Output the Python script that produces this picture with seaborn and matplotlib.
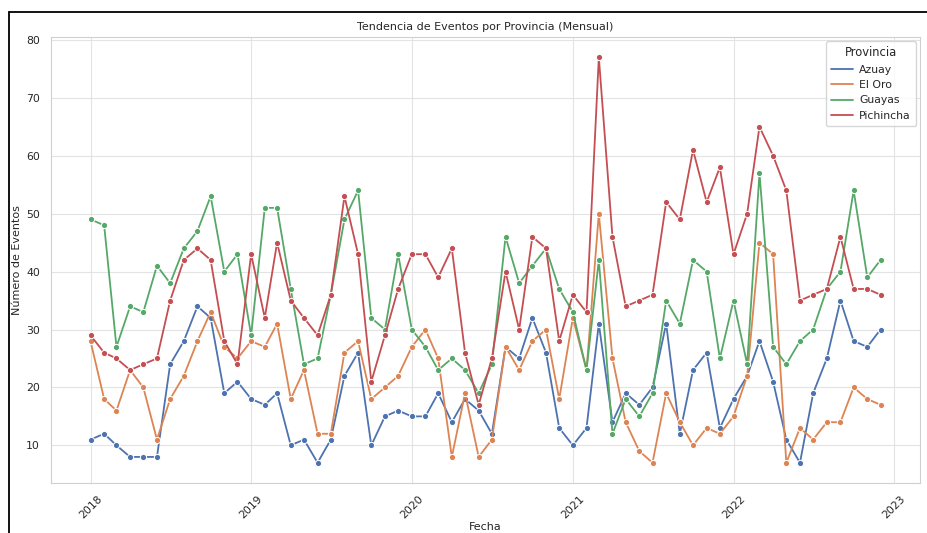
import numpy as np
import pandas as pd
import matplotlib
matplotlib.use("Agg")
import matplotlib.pyplot as plt
import seaborn as sns
from matplotlib.lines import Line2D

# ---- data ----
provincias = ["Azuay", "El Oro", "Guayas", "Pichincha"]
fechas = pd.date_range("2018-01-01", periods=60, freq="MS")

azuay = [11, 12, 10, 8, 8, 8, 24, 28, 34, 32, 19, 21,
         18, 17, 19, 10, 11, 7, 11, 22, 26, 10, 15, 16,
         15, 15, 19, 14, 18, 16, 12, 27, 25, 32, 26, 13,
         10, 13, 31, 14, 19, 17, 20, 31, 12, 23, 26, 13,
         18, 22, 28, 21, 11, 7, 19, 25, 35, 28, 27, 30]
el_oro = [28, 18, 16, 23, 20, 11, 18, 22, 28, 33, 27, 25,
          28, 27, 31, 18, 23, 12, 12, 26, 28, 18, 20, 22,
          27, 30, 25, 8, 19, 8, 11, 27, 23, 28, 30, 18,
          32, 23, 50, 25, 14, 9, 7, 19, 14, 10, 13, 12,
          15, 22, 45, 43, 7, 13, 11, 14, 14, 20, 18, 17]
guayas = [49, 48, 27, 34, 33, 41, 38, 44, 47, 53, 40, 43,
          29, 51, 51, 37, 24, 25, 36, 49, 54, 32, 30, 43,
          30, 27, 23, 25, 23, 19, 24, 46, 38, 41, 44, 37,
          33, 23, 42, 12, 18, 15, 19, 35, 31, 42, 40, 25,
          35, 24, 57, 27, 24, 28, 30, 37, 40, 54, 39, 42]
pichincha = [29, 26, 25, 23, 24, 25, 35, 42, 44, 42, 28, 24,
             43, 32, 45, 35, 32, 29, 36, 53, 43, 21, 29, 37,
             43, 43, 39, 44, 26, 17, 25, 40, 30, 46, 44, 28,
             36, 33, 77, 46, 34, 35, 36, 52, 49, 61, 52, 58,
             43, 50, 65, 60, 54, 35, 36, 37, 46, 37, 37, 36]

series = {"Azuay": azuay, "El Oro": el_oro, "Guayas": guayas, "Pichincha": pichincha}
df = pd.concat(
    [pd.DataFrame({"Fecha": fechas, "Eventos": vals, "Provincia": p}) for p, vals in series.items()],
    ignore_index=True,
)

# ---- plot ----
sns.set_theme(style="whitegrid")
plt.rcParams["font.family"] = ["DejaVu Sans"]

fig = plt.figure(figsize=(9.27, 5.33), dpi=100)
ax = fig.add_axes([51 / 927, 1 - 483 / 533, (920 - 51) / 927, (483 - 37) / 533])

palette = sns.color_palette("deep", 4)
sns.lineplot(data=df, x="Fecha", y="Eventos", hue="Provincia", hue_order=provincias,
             palette=palette, marker="o", markersize=4.5, linewidth=1.3, ax=ax)

ax.set_title("Tendencia de Eventos por Provincia (Mensual)", fontsize=8, pad=5)
ax.set_xlabel("Fecha", fontsize=8, labelpad=1)
ax.set_ylabel("Número de Eventos", fontsize=8, labelpad=3)
ax.tick_params(axis="both", labelsize=7.8, pad=2)
for lbl in ax.get_xticklabels():
    lbl.set_rotation(45)

for s in ax.spines.values():
    s.set_color("#d0d0d0")
    s.set_linewidth(0.8)
ax.grid(color="#e3e3e3", linewidth=0.8)

leg = ax.legend(title="Provincia", loc="upper right", fontsize=7.8, title_fontsize=8.3,
                frameon=True, borderpad=0.45, labelspacing=0.5, handlelength=2.0,
                handletextpad=0.6, borderaxespad=0.4)
leg.get_frame().set_edgecolor("#cccccc")
for h in leg.legend_handles:
    h.set_marker("")

# screenshot frame (left & top black edge)
fig.add_artist(Line2D([9 / 927, 9 / 927], [0, 1 - 12 / 533], transform=fig.transFigure,
                      color="black", linewidth=1.3))
fig.add_artist(Line2D([9 / 927, 1], [1 - 12 / 533, 1 - 12 / 533], transform=fig.transFigure,
                      color="black", linewidth=1.3))

fig.savefig("out.png", dpi=100)
